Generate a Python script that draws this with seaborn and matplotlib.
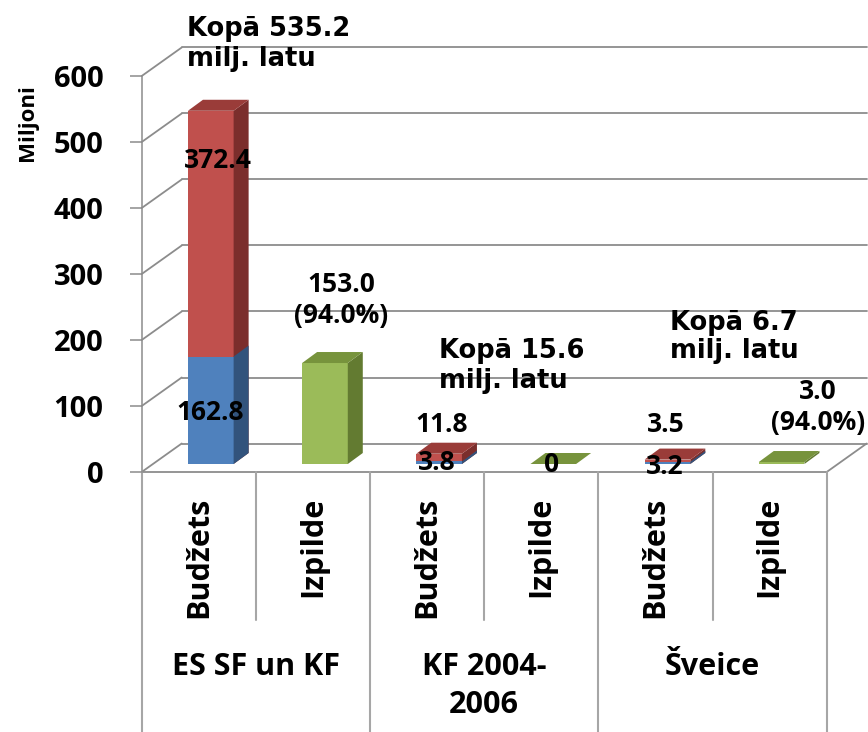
import numpy as np
import pandas as pd
import seaborn as sns
import matplotlib
matplotlib.use("Agg")
import matplotlib.pyplot as plt
import matplotlib.transforms as mtransforms
from matplotlib.patches import Polygon
from matplotlib.lines import Line2D

# ---------------- data ----------------
groups = ["ES SF un KF", "KF 2004-\n2006", "Šveice"]
sub_labels = ["Budžets", "Izpilde"]
budget_blue = [162.8, 3.8, 3.2]
budget_red = [372.4, 11.8, 3.5]
izpilde_green = [153.0, 0.0, 3.0]
totals_text = ["Kopā 535.2\nmilj. latu", "Kopā 15.6\nmilj. latu", "Kopā 6.7\nmilj. latu"]
izpilde_text = ["153.0\n(94.0%)", "0", "3.0\n(94.0%)"]
y_ticks = [0, 100, 200, 300, 400, 500, 600]
y_label = "Miljoni"

slots = [f"{g}|{s}" for g in groups for s in sub_labels]
bud_slots = [f"{g}|Budžets" for g in groups]
izp_slots = [f"{g}|Izpilde" for g in groups]

df_total = pd.DataFrame({"slot": bud_slots,
                         "value": [b + r for b, r in zip(budget_blue, budget_red)]})
df_blue = pd.DataFrame({"slot": bud_slots, "value": budget_blue})
df_green = pd.DataFrame({"slot": izp_slots, "value": izpilde_green})

# ---------------- colours ----------------
RED, RED_TOP, RED_SIDE = "#C0504D", "#9A3C39", "#7B2E2C"
BLUE, BLUE_TOP, BLUE_SIDE = "#4F81BD", "#3D6696", "#32537C"
GREEN, GREEN_TOP, GREEN_SIDE = "#9BBB59", "#77933C", "#637B31"
GRID = "#8C8C8C"
TABLE = "#A6A6A6"

FONT = ["Open Sans", "DejaVu Sans"]

W, H = 868, 732
DPI = 100
sns.set_theme(style="white")
plt.rcParams["font.family"] = FONT
plt.rcParams["text.color"] = "black"

fig = plt.figure(figsize=(W / DPI, H / DPI), dpi=DPI)
ax = fig.add_axes([141.7 / W, (H - 472) / H, 685 / W, 396 / H])

sns.barplot(data=df_total, x="slot", y="value", order=slots, color=RED,
            saturation=1, width=0.4, ax=ax, zorder=3)
sns.barplot(data=df_blue, x="slot", y="value", order=slots, color=BLUE,
            saturation=1, width=0.4, ax=ax, zorder=4)
sns.barplot(data=df_green, x="slot", y="value", order=slots, color=GREEN,
            saturation=1, width=0.4, ax=ax, zorder=3)

ax.set_xlim(-0.5, len(slots) - 0.5)
ax.set_ylim(0, 600)
ax.set_xlabel("")
ax.set_ylabel("")
ax.set_xticks([])
ax.set_yticks(y_ticks)
ax.set_yticklabels([str(t) for t in y_ticks], fontsize=21, fontweight="bold",
                   family=FONT, color="black")
ax.tick_params(axis="y", length=8.6, width=1.1, color=GRID, pad=19, left=True,
               labelcolor="black")
for s in ["top", "right", "bottom"]:
    ax.spines[s].set_visible(False)
ax.spines["left"].set_color(GRID)
ax.spines["left"].set_linewidth(1.1)
ax.patch.set_alpha(0)

# 3D offsets in pixels
WALL_DX, WALL_DY = 40, 28.5
BAR_OX, BAR_OY = 12, 8
BAR_DX, BAR_DY = 15, 11

ident = mtransforms.IdentityTransform()
back = mtransforms.offset_copy(ax.transData, fig=fig, x=WALL_DX, y=WALL_DY, units="dots")
bar_tr = mtransforms.offset_copy(ax.transData, fig=fig, x=BAR_OX, y=BAR_OY, units="dots")

x0, x1 = -0.5, len(slots) - 0.5
# back wall gridlines and left wall diagonals
for t in y_ticks:
    ax.add_line(Line2D([x0, x1], [t, t], transform=back, color=GRID, lw=1.3,
                       zorder=0.5, clip_on=False))
    p = ax.transData.transform((x0, t))
    ax.add_line(Line2D([p[0], p[0] + WALL_DX], [p[1], p[1] + WALL_DY], transform=ident,
                       color=GRID, lw=1.3, zorder=0.5, clip_on=False))
# floor front edge and right diagonal
ax.add_line(Line2D([x0, x1], [0, 0], transform=ax.transData, color=GRID, lw=1.3,
                   zorder=0.6, clip_on=False))
p = ax.transData.transform((x1, 0))
ax.add_line(Line2D([p[0], p[0] + WALL_DX], [p[1], p[1] + WALL_DY], transform=ident,
                   color=GRID, lw=1.3, zorder=0.6, clip_on=False))

# 3D faces of the bars
shade = {matplotlib.colors.to_hex(RED): (RED_TOP, RED_SIDE),
         matplotlib.colors.to_hex(BLUE): (BLUE_TOP, BLUE_SIDE),
         matplotlib.colors.to_hex(GREEN): (GREEN_TOP, GREEN_SIDE)}
rects = [r for r in ax.patches if r.get_width() > 0]
for r in rects:
    r.set_transform(bar_tr)
    r.set_clip_on(False)
    r.set_edgecolor("none")
    col = matplotlib.colors.to_hex(r.get_facecolor())
    top_c, side_c = shade[col]
    bx, by, bw, bh = r.get_x(), r.get_y(), r.get_width(), r.get_height()
    bl = bar_tr.transform((bx, by))
    tr = bar_tr.transform((bx + bw, by + bh))
    z = r.get_zorder()
    side = Polygon([(tr[0], bl[1]), (tr[0], tr[1]), (tr[0] + BAR_DX, tr[1] + BAR_DY),
                    (tr[0] + BAR_DX, bl[1] + BAR_DY)], closed=True, transform=ident,
                   facecolor=side_c, edgecolor="none", zorder=z, clip_on=False)
    ax.add_patch(side)
    if col != matplotlib.colors.to_hex(BLUE):
        top = Polygon([(bl[0], tr[1]), (tr[0], tr[1]), (tr[0] + BAR_DX, tr[1] + BAR_DY),
                       (bl[0] + BAR_DX, tr[1] + BAR_DY)], closed=True, transform=ident,
                      facecolor=top_c, edgecolor="none", zorder=z + 0.1, clip_on=False)
        ax.add_patch(top)

# category table below the floor
xa = ax.get_xaxis_transform()
short_y = (472 - 620) / 396
full_y = (472 - 740) / 396
for k in range(len(slots) + 1):
    yb = full_y if k % 2 == 0 else short_y
    ax.add_line(Line2D([x0 + k, x0 + k], [0, yb], transform=xa, color=TABLE, lw=1.5,
                       clip_on=False, zorder=1))
for i, s in enumerate(slots):
    ax.text(i, (472 - 497) / 396, s.split("|")[1], transform=xa, rotation=90,
            ha="center", va="top", fontsize=22, fontweight="bold", color="black")
for gi, g in enumerate(groups):
    ax.text(2 * gi + 0.5, (472 - 652) / 396, g, transform=xa, ha="center", va="top",
            fontsize=22, fontweight="bold", color="black", linespacing=1.35)

# text in pixel coordinates (origin top-left)
px = mtransforms.Affine2D().scale(1, -1).translate(0, H)

def lab(x, y, s, **kw):
    fig.text(x, y, s, transform=px, ha="center", va="center", fontweight="bold",
             color="black", zorder=10, **kw)

lab(27, 123, y_label, rotation=90, fontsize=16)

# data labels
lab(218, 160, f"{budget_red[0]:.1f}", fontsize=19)
lab(210, 412, f"{budget_blue[0]:.1f}", fontsize=19)
lab(341, 300, izpilde_text[0], fontsize=19, linespacing=1.2)
lab(442, 424, f"{budget_red[1]:.1f}", fontsize=19)
lab(437, 463, f"{budget_blue[1]:.1f}", fontsize=19)
lab(552, 464, izpilde_text[1], fontsize=19)
lab(666, 424, f"{budget_red[2]:.1f}", fontsize=19)
lab(665, 467, f"{budget_blue[2]:.1f}", fontsize=19)
lab(818, 407, izpilde_text[2], fontsize=19, linespacing=1.2)

# totals
for (x, y), s in zip([(187, 44), (439, 366), (670, 337)], totals_text):
    fig.text(x, y, s, transform=px, ha="left", va="center", fontsize=18.5,
             fontweight="bold", family=["DejaVu Sans"], color="black",
             linespacing=1.15, zorder=10)

fig.savefig("out.png", dpi=DPI)
